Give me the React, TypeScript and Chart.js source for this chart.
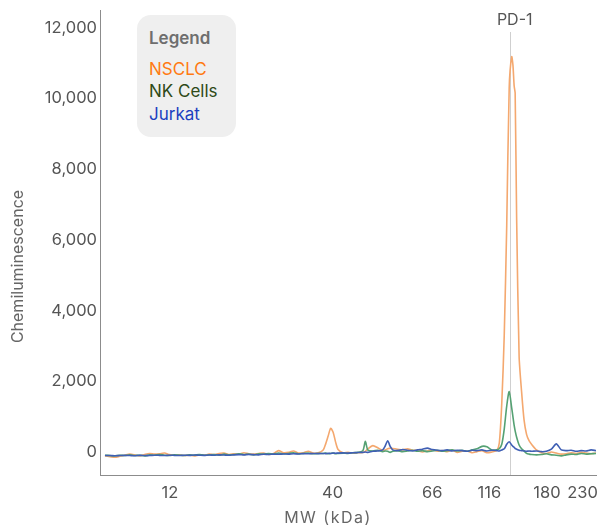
import React, { useEffect, useRef } from "react";
import { Chart, registerables } from "chart.js";

Chart.register(...registerables);

// Migration position along the capillary (0 = left end of axis, 100 = right end)
const positions = [
  1, 2, 3, 4, 5, 6, 7, 8, 9, 10, 11, 12, 13, 14, 15, 16, 17, 18, 19, 20, 21, 22,
  23, 24, 25, 26, 27, 28, 29, 30, 31, 32, 33, 34, 35, 36, 37, 38, 39, 40, 41, 42,
  43, 44,
  45, 45.5, 46, 46.5, 47, 47.5, 48,
  49, 50, 51, 52, 53,
  53.5,
  54, 55, 56, 57,
  57.5, 58, 58.5,
  59, 60, 61, 62, 63, 64, 65, 66, 67, 68, 69, 70, 71, 72, 73, 74, 75, 76, 77, 78,
  79, 80,
  80.5, 81, 81.5, 82, 82.5, 83, 83.25, 83.5, 83.7, 84, 84.5, 85, 85.5, 86, 86.5, 87,
  88, 89, 90, 91, 92, 93, 94, 95, 96, 97, 98, 99, 100,
];

const nsclc = [
  -110, -130, -150, -120, -90, -60, -80, -110, -70, -40, -60, -50, -30, -70, -90,
  -80, -100, -90, -110, -80, -90, -60, -70, -40, -30, -70, -50, -60, -20, -50,
  -60, -40, -30, -70, -40, 40, -20, -10, 30, -30, -20, 20, -30, -20,
  60, 230, 450, 670, 560, 280, 70,
  -20, -10, -30, -20, -10,
  20,
  90, 180, 120, 40,
  60, 90, 110,
  100, 80, 60, 90, 50, 40, 0, 30, 60, 20, 40, 10, 50, -10, 20, 30, -20, 10, 40,
  -20, 0, 40,
  250, 1370, 3300, 6400, 10300, 11180, 10950, 10350, 10150, 6600, 2700, 1700, 900,
  500, 320, 220,
  60, -20, -40, 0, -30, -60, -50, -20, -40, -10, -30, -50, -30,
];

const nkCells = [
  -90, -100, -110, -90, -100, -80, -100, -90, -110, -80, -90, -70, -90, -100, -80,
  -90, -100, -80, -90, -70, -90, -80, -70, -90, -60, -80, -70, -50, -70, -60, -80,
  -50, -60, -40, -60, -30, -50, -40, -20, -50, -40, -30, -50, -40,
  -40, -30, -50, -40, -30, -50, -40,
  -30, -40, -20, -10, 40,
  300,
  60, 30, 50, 10,
  30, 20, -10,
  20, 40, 10, 30, 50, 20, 40, 10, 30, 50, 20, 40, 60, 30, 50, 20, 60, 90, 160, 150,
  60, 60,
  90, 220, 650, 1300, 1710, 1250, 1000, 750, 600, 420, 200, 90, 30, -40, -60, -70,
  -80, -70, -50, -80, -90, -110, -80, -60, -70, -40, -60, -50, -40,
];

const jurkat = [
  -100, -100, -105, -100, -95, -100, -105, -95, -100, -100, -90, -95, -100, -90,
  -95, -100, -90, -95, -85, -90, -95, -85, -90, -80, -85, -90, -80, -75, -80, -70,
  -75, -80, -65, -70, -60, -65, -55, -60, -50, -55, -45, -50, -40, -45,
  -40, -45, -35, -40, -30, -35, -30,
  -25, -30, -20, -15, -10,
  0,
  -10, 20, 30, 60,
  170, 320, 160,
  60, 40, 70, 50, 30, 60, 80, 110, 70, 50, 40, 60, 30, 50, 40, 20, 50, 40, 60, 30,
  50, 40,
  30, 60, 90, 220, 290, 200, 160, 130, 100, 80, 50, 40, 30, 20, 30, 20,
  30, 10, 20, 80, 230, 60, 40, 50, 20, 40, 30, 60, 40,
];

const xTickPositions = [14.1, 46.9, 67.0, 78.5, 90.1, 97.3];
const xTickLabels = ["12", "40", "66", "116", "180", "230"];
const yTicks = [0, 2000, 4000, 6000, 8000, 10000, 12000];
const markerPosition = 82.6;
const markerLabel = "PD-1";
const xTitle = "MW (kDa)";
const yTitle = "Chemiluminescence";
const seriesNames = ["NSCLC", "NK Cells", "Jurkat"];
const lineColors = ["#f4a86f", "#55a173", "#3f5fb4"];
const legendTextColors = ["#ff7a12", "#2e4a17", "#1c3fc0"];

const FONT = "Inter, 'Noto Sans', sans-serif";

const overlayPlugin = {
  id: "overlay",
  beforeDatasetsDraw(chart: any) {
    const { ctx, chartArea, scales } = chart;
    const x = Math.round(scales.x.getPixelForValue(markerPosition)) + 0.5;
    ctx.save();
    ctx.strokeStyle = "#cfcfcf";
    ctx.lineWidth = 1;
    ctx.beginPath();
    ctx.moveTo(x, chartArea.top + 22);
    ctx.lineTo(x, chartArea.bottom);
    ctx.stroke();
    ctx.restore();
  },
  afterDraw(chart: any) {
    const { ctx, chartArea, scales } = chart;
    const x = scales.x.getPixelForValue(markerPosition);
    ctx.save();
    ctx.font = `16px ${FONT}`;
    ctx.fillStyle = "#555555";
    ctx.textAlign = "center";
    ctx.textBaseline = "middle";
    ctx.fillText(markerLabel, x + 5, chartArea.top + 10);

    ctx.fillStyle = "#666666";
    ctx.save();
    (ctx as any).letterSpacing = "1.5px";
    ctx.fillText(xTitle, (chartArea.left + chartArea.right) / 2 - 20, 518);
    ctx.restore();

    ctx.translate(18, (chartArea.top + chartArea.bottom) / 2 + 24);
    ctx.rotate(-Math.PI / 2);
    ctx.fillText(yTitle, 0, 0);
    ctx.restore();
  },
};

export default function App() {
  const ref = useRef<HTMLCanvasElement>(null);

  useEffect(() => {
    const canvas = ref.current;
    if (!canvas) return;
    const mk = (vals: number[]) => positions.map((x, i) => ({ x, y: vals[i] }));
    const series = [nsclc, nkCells, jurkat];
    const chart = new Chart(canvas, {
      type: "line",
      data: {
        datasets: series.map((vals, i) => ({
          label: seriesNames[i],
          data: mk(vals),
          borderColor: lineColors[i],
          backgroundColor: lineColors[i],
          order: 2 - i,
        })),
      },
      options: {
        responsive: false,
        animation: false,
        events: [],
        font: { family: FONT },
        layout: { padding: { top: 10, right: 6, left: 0, bottom: 0 } },
        elements: {
          point: { radius: 0 },
          line: { borderWidth: 1.6, tension: 0.25 },
        },
        plugins: {
          legend: { display: false },
          tooltip: { enabled: false },
        },
        scales: {
          x: {
            type: "linear",
            min: 0,
            max: 100,
            grid: { display: false, drawTicks: false },
            border: { display: true, color: "#8c8c8c", width: 1 },
            ticks: {
              padding: 8,
              color: "#555555",
              font: { size: 16.5, family: FONT },
              autoSkip: false,
              maxRotation: 0,
              callback: (_v: any, i: number) => xTickLabels[i],
            },
            afterBuildTicks: (s: any) => {
              s.ticks = xTickPositions.map((v) => ({ value: v }));
            },
            afterFit: (s: any) => {
              s.height = 52;
              s.paddingLeft = 0;
              s.paddingRight = 0;
            },
          },
          y: {
            type: "linear",
            min: -650,
            max: 12500,
            grid: { display: false, drawTicks: false },
            border: { display: true, color: "#8c8c8c", width: 1 },
            ticks: {
              padding: 3,
              color: "#555555",
              font: { size: 16.5, family: FONT },
              callback: (v: any) => Number(v).toLocaleString("en-US"),
            },
            afterBuildTicks: (s: any) => {
              s.ticks = yTicks.map((v) => ({ value: v }));
            },
            afterFit: (s: any) => {
              s.width = 100;
              s.paddingTop = 0;
              s.paddingBottom = 0;
            },
          },
        },
      },
      plugins: [overlayPlugin],
    } as any);
    return () => chart.destroy();
  }, []);

  return (
    <div
      style={{
        position: "fixed",
        left: 0,
        top: 0,
        width: 602,
        height: 527,
        background: "#ffffff",
      }}
    >
      <canvas
        ref={ref}
        width={602}
        height={527}
        style={{ display: "block", width: 602, height: 527 }}
      />
      <div
        style={{
          position: "absolute",
          left: 137,
          top: 15,
          width: 99,
          height: 122,
          boxSizing: "border-box",
          background: "#efefef",
          borderRadius: 14,
          padding: "12px 0 0 12px",
          fontFamily: FONT,
          fontSize: 17,
          lineHeight: "22.5px",
        }}
      >
        <div style={{ fontWeight: 600, color: "#6e6e6e", marginBottom: 8 }}>Legend</div>
        {seriesNames.map((n, i) => (
          <div key={n} style={{ color: legendTextColors[i], whiteSpace: "nowrap" }}>
            {n}
          </div>
        ))}
      </div>
    </div>
  );
}
